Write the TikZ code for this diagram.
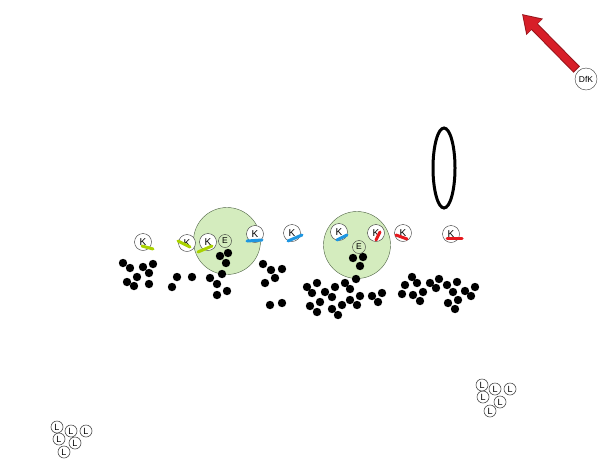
\documentclass[tikz,border=0pt]{standalone}
\usepackage{fontspec}
\setmainfont{Liberation Sans}
\usetikzlibrary{arrows.meta}
\definecolor{zonegreen}{RGB}{212,236,190}
\definecolor{zoneline}{RGB}{80,100,70}
\definecolor{tickgreen}{RGB}{170,210,0}
\definecolor{tickblue}{RGB}{30,150,225}
\definecolor{tickred}{RGB}{230,25,30}
\definecolor{arrowred}{RGB}{215,30,40}
\tikzstyle{zone} = [circle, minimum size=67pt, fill=zonegreen, draw=zoneline, thin]
\tikzstyle{player} = [circle, minimum size=17pt, inner sep=0pt, draw=black!80, fill=white, font=\fontsize{10}{10}\selectfont]
\tikzstyle{small} = [circle, minimum size=13pt, inner sep=0pt, draw=black!80, font=\fontsize{8.5}{8.5}\selectfont]
\tikzstyle{lfig} = [circle, minimum size=12pt, inner sep=0pt, draw=black!70, semithick, font=\fontsize{9}{9}\selectfont]
\tikzstyle{tick} = [line width=3pt, line cap=round]
\tikzstyle{dot} = [fill=black]
\begin{document}
\begin{tikzpicture}[x=1pt, y=-1pt]
            \useasboundingbox (0,0) rectangle (609,472);

            \node [zone] at (227,241) (zone1) {};
            \node [zone] at (357,245) (zone2) {};

            \foreach \p in {(123,263),(130,268),(143,267),(153,264),(137,277),(149,273),(127,282),(134,286),(149,284),
                            (177,277),(192,277),(172,287),(210,278),(217,284),(227,291),(217,295),
                            (220,256),(228,253),(226,263),(222,274),
                            (263,264),(271,270),(282,269),(265,283),(275,278),(282,303),(270,305),
                            (353,258),(363,257),(360,266),(356,279),
                            (307,287),(317,283),(312,293),(325,292),(335,287),(345,283),(350,289),(332,297),
                            (320,302),(310,306),(317,312),(332,309),(338,315),(342,305),(350,300),(357,305),
                            (360,296),(372,296),(382,293),(378,302),
                            (412,277),(405,285),(417,283),(402,294),(413,295),(423,292),(420,301),(430,283),
                            (439,279),(436,288),(447,285),(457,282),(453,292),(465,291),(475,287),(471,296),
                            (458,300),(448,303),(455,309)}
                \fill [dot] \p circle (4.2pt);

            \node [player] at (143,242) (k1) {K};
            \node [player] at (187,243) (k2) {K};
            \node [player] at (208,242) (k3) {K};
            \node [small] at (225,241) (e1) {E};
            \node [player] at (255,234) (k4) {K};
            \node [player] at (292,233) (k5) {K};
            \node [player] at (339,232) (k6) {K};
            \node [small] at (359,247) (e2) {E};
            \node [player] at (376,233) (k7) {K};
            \node [player] at (403,233) (k8) {K};
            \node [player] at (451,234) (k9) {K};

            \draw [tick, tickgreen] (142,246) -- (153,249);
            \draw [tick, tickgreen] (178,241) -- (190,247);
            \draw [tick, tickgreen] (198,252) -- (212,246);
            \draw [tick, tickblue] (247,241) -- (262,240);
            \draw [tick, tickblue] (288,241) -- (302,235);
            \draw [tick, tickblue] (337,240) -- (347,235);
            \draw [tick, tickred] (376,240) -- (380,232);
            \draw [tick, tickred] (396,235) -- (407,239);
            \draw [tick, tickred] (447,238) -- (462,238);

            \draw [line width=3pt] (444,168) ellipse (11pt and 40pt);

            \node [player, minimum size=22pt, font=\fontsize{8.5}{8.5}\selectfont] at (586,79) (dfk) {DfK};
            \coordinate (tip) at (522,14);
            \draw [line width=9pt, arrowred!70!black, -{Triangle[length=18pt, width=22pt]}, shorten <=2pt] (dfk) -- (tip);
            \draw [line width=7pt, arrowred, -{Triangle[length=16pt, width=19pt]}, shorten <=3pt, shorten >=1.5pt] (dfk) -- (tip);

            \node [lfig] at (57,427) (l1) {L};
            \node [lfig] at (71,431) (l2) {L};
            \node [lfig] at (86,431) (l3) {L};
            \node [lfig] at (59,439) (l4) {L};
            \node [lfig] at (75,443) (l5) {L};
            \node [lfig] at (64,452) (l6) {L};

            \node [lfig] at (482,385) (l7) {L};
            \node [lfig] at (495,389) (l8) {L};
            \node [lfig] at (510,389) (l9) {L};
            \node [lfig] at (483,397) (l10) {L};
            \node [lfig] at (500,402) (l11) {L};
            \node [lfig] at (490,411) (l12) {L};
            \end{tikzpicture}
\end{document}
